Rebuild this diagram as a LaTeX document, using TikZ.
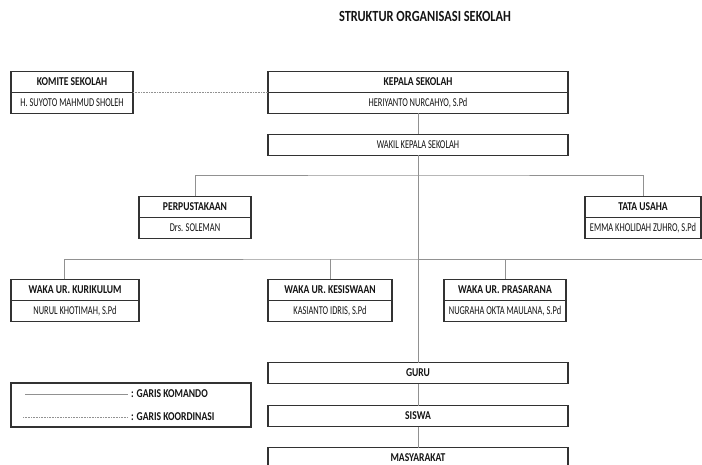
\documentclass[tikz,border=0pt]{standalone}
\usepackage{fontspec}
\setmainfont{Carlito}[FakeStretch=0.8]
\newfontfamily\namefont{Carlito}[FakeStretch=0.7]
\usetikzlibrary{positioning}
\definecolor{boxline}{RGB}{50,50,50}
\definecolor{linkgray}{RGB}{145,145,145}
\definecolor{inkdark}{RGB}{20,20,20}
\tikzset{
  headbox/.style={rectangle, draw=boxline, fill=white, line width=1.2pt,
    minimum height=21pt, inner sep=0pt, outer sep=0pt, text=inkdark,
    font=\fontsize{12}{14}\selectfont\bfseries},
  namebox/.style={headbox, font=\namefont\fontsize{12}{14}\selectfont},
  legtext/.style={anchor=west, inner sep=0pt, text=inkdark,
    font=\fontsize{12}{14}\selectfont\bfseries},
  komando/.style={draw=linkgray, line width=0.9pt},
  koordinasi/.style={draw=linkgray, line width=0.9pt, dash pattern=on 0.8pt off 0.8pt}
}

\begin{document}
\begin{tikzpicture}[x=1pt, y=-1pt, node distance=0pt]
  \useasboundingbox (0,0) rectangle (702,465);
  \node[text=inkdark, font=\fontsize{15.5}{18}\selectfont\bfseries] (judul) at (425,16) {STRUKTUR ORGANISASI SEKOLAH};

  \node[headbox, minimum width=122pt] (komite) at (72,82) {KOMITE SEKOLAH};
  \node[namebox, minimum width=122pt, below=of komite] (komiteN) {H. SUYOTO MAHMUD SHOLEH};
  \node[headbox, minimum width=300pt] (kepala) at (418,82) {KEPALA SEKOLAH};
  \node[namebox, minimum width=300pt, below=of kepala] (kepalaN) {HERIYANTO NURCAHYO, S.Pd};
  \node[namebox, minimum width=300pt] (wakil) at (418,145) {WAKIL KEPALA SEKOLAH};

  \node[headbox, minimum width=112pt] (perpus) at (195,207) {PERPUSTAKAAN};
  \node[namebox, minimum width=112pt, below=of perpus] (perpusN) {Drs. SOLEMAN};
  \node[headbox, minimum width=116pt] (tata) at (643,207) {TATA USAHA};
  \node[namebox, minimum width=116pt, below=of tata] (tataN) {EMMA KHOLIDAH ZUHRO, S.Pd};

  \node[headbox, minimum width=128pt] (kurikulum) at (75,290) {WAKA UR. KURIKULUM};
  \node[namebox, minimum width=128pt, below=of kurikulum] (kurikulumN) {NURUL KHOTIMAH, S.Pd};
  \node[headbox, minimum width=124pt] (kesiswaan) at (330,290) {WAKA UR. KESISWAAN};
  \node[namebox, minimum width=124pt, below=of kesiswaan] (kesiswaanN) {KASIANTO IDRIS, S.Pd};
  \node[headbox, minimum width=122pt] (prasarana) at (505,290) {WAKA UR. PRASARANA};
  \node[namebox, minimum width=122pt, below=of prasarana] (prasaranaN) {NUGRAHA OKTA MAULANA, S.Pd};

  \node[headbox, minimum width=300pt] (guru) at (418,373) {GURU};
  \node[headbox, minimum width=300pt] (siswa) at (418,416) {SISWA};
  \node[headbox, minimum width=300pt] (masyarakat) at (418,458) {MASYARAKAT};

  \node[draw=boxline, line width=1.2pt, minimum width=240pt, minimum height=44pt] (legenda) at (131,405) {};
  \coordinate (kmA) at (25,394);
  \coordinate (kmB) at (128,394);
  \coordinate (koA) at (23,417);
  \coordinate (koB) at (128,417);
  \node[legtext] (kmT) at (131,394) {: GARIS KOMANDO};
  \node[legtext] (koT) at (131,417) {: GARIS KOORDINASI};
  \draw[komando] (kmA) -- (kmB);
  \draw[koordinasi] (koA) -- (koB);

  \coordinate (bus1) at (418,175);
  \coordinate (bus2) at (418,259);
  \coordinate (ujung) at (702,259);
  \draw[koordinasi] (komite.south east) -- (kepala.south west);
  \draw[komando] (kepalaN) -- (wakil);
  \draw[komando] (wakil) -- (guru);
  \draw[komando] (perpus) |- (bus1) -| (tata);
  \draw[komando] ([xshift=-11pt]kurikulum.north) |- (bus2) -| (prasarana);
  \draw[komando] (bus2) -- (ujung);
  \draw[komando] (kesiswaan) -- (kesiswaan |- bus2);
  \draw[komando] (guru) -- (siswa);
  \draw[komando] (siswa) -- (masyarakat);
\end{tikzpicture}
\end{document}
